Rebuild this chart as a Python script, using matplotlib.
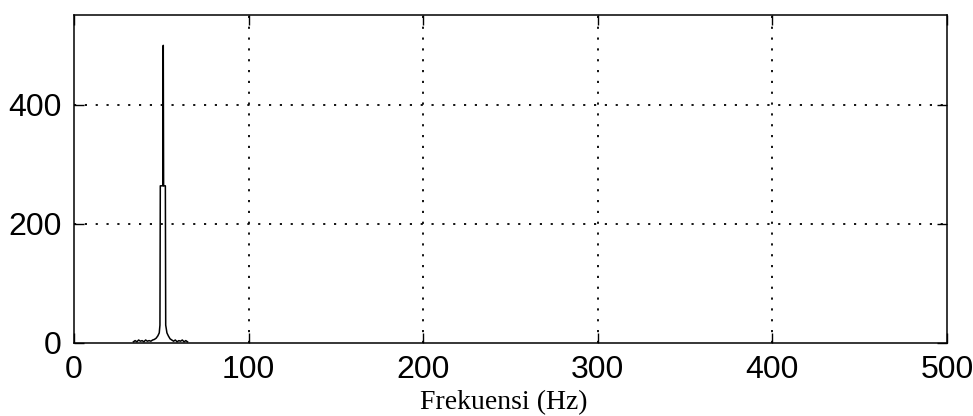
import matplotlib
matplotlib.use('Agg')
import matplotlib.pyplot as plt

# spectrum (only the region around the 50 Hz line is non-zero)
freq = [34, 35, 36, 37, 38, 39, 40, 41, 42, 43, 44, 45, 46, 47, 48, 48.8,
        49.2, 49.4, 50.9, 51.1, 51.3, 52.3, 52.5, 53.2, 54, 55, 56, 57, 58,
        59, 60, 61, 62, 63, 64, 65]
mag = [2, 4, 2, 5, 3, 4, 2, 5, 3, 4, 3, 5, 6, 8, 12, 17,
       30, 264, 264, 500, 264, 264, 30, 17, 12, 7, 5, 3, 5, 2, 4, 3, 5, 2, 4, 2]

xticks = [0, 100, 200, 300, 400, 500]
yticks = [0, 200, 400]

tick_font = ['Liberation Sans', 'DejaVu Sans']

fig = plt.figure(figsize=(9.73, 4.16), dpi=100)
ax = fig.add_axes([0.0761, 0.1755, 0.8972, 0.7885])

ax.plot(freq, mag, color='black', linewidth=1.1)

ax.set_xlim(0, 500)
ax.set_ylim(0, 551)
ax.set_xticks(xticks)
ax.set_yticks(yticks)

# matlab-ish look: inward ticks on all sides, dotted grid
ax.tick_params(direction='in', length=7, width=1.0, top=True, right=True,
               labelsize=23, pad=9, colors='black')
for lab in ax.get_xticklabels() + ax.get_yticklabels():
    lab.set_family(tick_font)
ax.grid(True, color='black', linestyle=(0, (1.2, 4.8)), linewidth=1.3)
# no grid on the box edges
xg = ax.get_xgridlines()
xg[0].set_visible(False)
xg[-1].set_visible(False)
ax.get_ygridlines()[0].set_visible(False)
for sp in ax.spines.values():
    sp.set_linewidth(1.1)

ax.set_xlabel('Frekuensi (Hz)', family=['Liberation Serif', 'DejaVu Serif'],
              fontsize=20)
ax.xaxis.set_label_coords(0.4926, -0.145)

plt.savefig('out.png', dpi=100)
